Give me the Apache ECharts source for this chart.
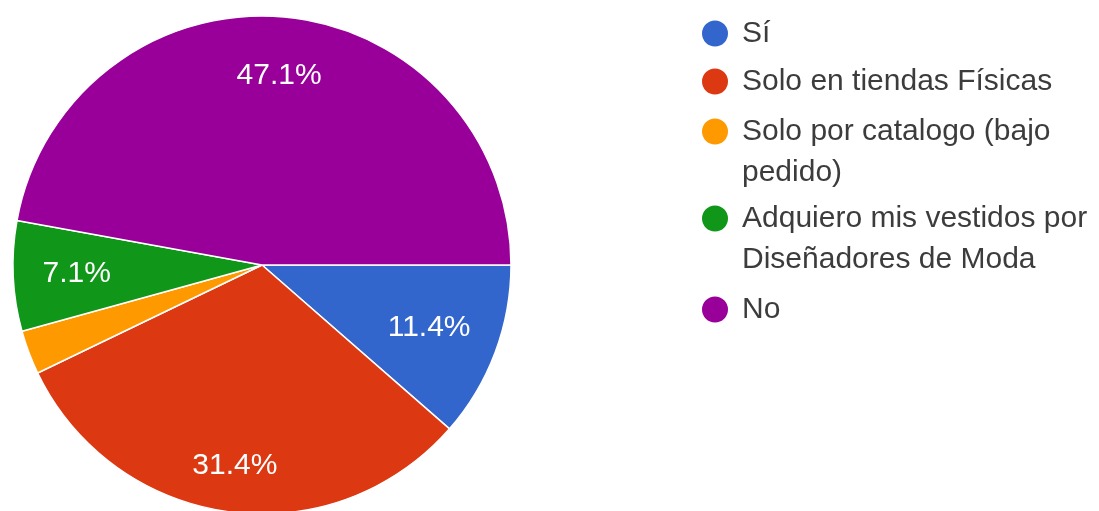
<!DOCTYPE html>
<html>
<head>
<meta charset="utf-8">
<script src="https://cdn.jsdelivr.net/npm/echarts@6/dist/echarts.min.js"></script>
<style>
  html, body { margin: 0; padding: 0; background: #ffffff; }
  #chart { width: 1099px; height: 511px; }
</style>
</head>
<body>
<div id="chart"></div>
<script>
// Survey answers and number of respondents for each
const categories = [
  'Sí',
  'Solo en tiendas Físicas',
  'Solo por catalogo (bajo pedido)',
  'Adquiero mis vestidos por Diseñadores de Moda',
  'No'
];
const counts = [8, 22, 2, 5, 33];
const colors = ['#3366cc', '#dc3912', '#ff9900', '#109618', '#990099'];

// Legend row boxes (top, px) and line spacing
const legendTops = [13, 61, 70, 157, 289];
const legendLineHeight = 41;

const FONT = '"Liberation Sans", Arial, sans-serif';
const CENTER = [262, 265];
const RADIUS = 249;
const total = counts.reduce((a, b) => a + b, 0);
const pct = v => (v / total) * 100;

const pieData = categories.map((name, i) => ({
  name: name,
  value: counts[i],
  itemStyle: { color: colors[i] }
}));

const chart = echarts.init(document.getElementById('chart'), null, { renderer: 'canvas' });

// One legend block per answer; long answers wrap, and a leading blank line
// keeps the dot level with the first text line.
const legends = categories.map((name, i) => ({
  show: true,
  orient: 'vertical',
  left: 700,
  top: legendTops[i],
  data: [name],
  icon: 'circle',
  itemWidth: 28,
  itemHeight: 28,
  itemGap: 0,
  padding: 0,
  selectedMode: false,
  formatter: n => (n.length > 25 ? '\n' + n : n),
  textStyle: {
    fontFamily: FONT,
    fontSize: 30,
    color: '#3c3c3c',
    lineHeight: legendLineHeight,
    width: 360,
    overflow: 'break',
    padding: [0, 0, 0, 8]
  }
}));

// Transparent ring carrying the percentage labels for a range of slice sizes
function labelRing(innerRadius, minPct, maxPct) {
  return {
    type: 'pie',
    center: CENTER,
    radius: [innerRadius, RADIUS],
    startAngle: 0,
    clockwise: true,
    silent: true,
    avoidLabelOverlap: false,
    itemStyle: { color: 'transparent', borderWidth: 0 },
    labelLine: { show: false },
    emphasis: { disabled: true },
    label: {
      show: true,
      position: 'inside',
      fontFamily: FONT,
      fontSize: 30,
      color: '#ffffff',
      formatter: p => {
        const v = pct(p.value);
        return v >= minPct && v < maxPct ? v.toFixed(1) + '%' : '';
      }
    },
    data: pieData.map(d => ({ name: d.name, value: d.value }))
  };
}

chart.setOption({
  backgroundColor: '#ffffff',
  animation: false,
  color: colors,
  legend: legends,
  series: [
    {
      type: 'pie',
      center: CENTER,
      radius: RADIUS,
      startAngle: 0,
      clockwise: true,
      avoidLabelOverlap: false,
      label: { show: false },
      labelLine: { show: false },
      itemStyle: { borderColor: '#ffffff', borderWidth: 1.5 },
      emphasis: { disabled: true },
      data: pieData
    },
    labelRing(116, 5, 10),
    labelRing(102, 10, 20),
    labelRing(150, 20, 40),
    labelRing(126, 40, 101)
  ]
});
</script>
</body>
</html>
